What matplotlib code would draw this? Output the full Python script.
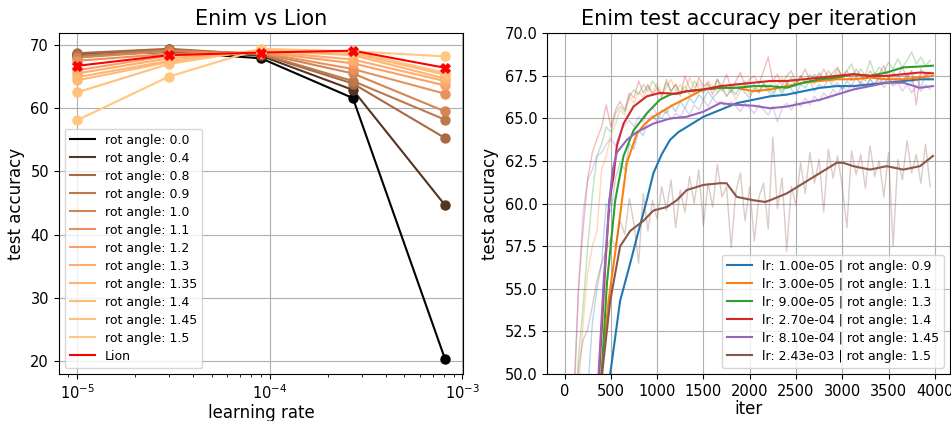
import matplotlib
matplotlib.use("Agg")
import matplotlib.pyplot as plt
from matplotlib import cm

# ---------------- left panel data ----------------
learning_rates = [1e-5, 3e-5, 9e-5, 2.7e-4, 8.1e-4]
rot_angles = [0.0, 0.4, 0.8, 0.9, 1.0, 1.1, 1.2, 1.3, 1.35, 1.4, 1.45, 1.5]
acc_by_angle = [
    [68.4, 68.9, 67.9, 61.6, 20.4],   # 0.0
    [68.6, 69.3, 68.3, 62.9, 44.7],   # 0.4
    [68.7, 69.4, 68.5, 63.9, 55.3],   # 0.8
    [68.3, 69.2, 68.6, 64.3, 58.2],   # 0.9
    [68.0, 69.0, 68.7, 65.5, 59.5],   # 1.0
    [67.5, 68.6, 68.8, 66.2, 62.3],   # 1.1
    [66.0, 68.3, 68.9, 67.1, 63.6],   # 1.2
    [65.5, 67.9, 69.0, 67.7, 64.3],   # 1.3
    [64.9, 67.5, 69.1, 68.4, 64.7],   # 1.35
    [64.4, 67.3, 69.2, 68.7, 65.3],   # 1.4
    [62.5, 67.0, 69.3, 68.9, 65.6],   # 1.45
    [58.1, 65.0, 69.4, 69.0, 68.2],   # 1.5
]
lion_acc = [66.7, 68.4, 68.8, 69.1, 66.4]

# ---------------- right panel data ----------------
run_lrs = [1.0e-5, 3.0e-5, 9.0e-5, 2.7e-4, 8.1e-4, 2.43e-3]
run_angles = ["0.9", "1.1", "1.3", "1.4", "1.45", "1.5"]
raw_iters = list(range(0, 4000, 50))

raw_blue = [20, 25, 30, 35, 42, 49, 53, 55, 56.5, 60, 59.5, 61.5, 62.4, 62, 63.5, 63.2, 64.3, 64, 64.9, 65.2,
            64.8, 65.5, 65.3, 65.8, 65.4, 66, 65.6, 66.2, 65.9, 66.4, 66.1, 66.6, 66.2, 66.5, 66.9, 66.3, 66.7, 66.4, 66.9, 66.5,
            66.2, 66.8, 66.5, 67.0, 66.6, 66.3, 66.9, 66.6, 67.1, 66.7, 66.4, 67.0, 66.8, 67.2, 66.6, 67.0, 66.8, 67.3, 66.9, 67.1,
            66.7, 67.2, 66.9, 67.4, 67.0, 66.8, 67.3, 67.0, 67.5, 67.1, 67.4, 67.0, 67.5, 67.2, 67.6, 67.1, 67.4, 66.8, 67.6, 67.3]
raw_orange = [25, 32, 40, 49, 53, 56, 57.5, 58.4, 62, 62.8, 64, 64.7, 65.5, 65.2, 66.3, 65.9, 66.6, 66.2, 66.9, 66.5,
              67.1, 66.4, 66.8, 67.3, 66.6, 67.0, 66.5, 67.4, 66.8, 67.1, 66.7, 67.2, 66.9, 66.5, 66.8, 66.3, 66.7, 66.1, 66.6, 66.9,
              66.4, 66.8, 66.5, 67.0, 66.7, 67.2, 66.9, 67.4, 67.0, 67.3, 66.9, 67.5, 67.1, 67.4, 67.0, 67.6, 67.2, 67.5, 67.1, 67.7,
              67.3, 67.6, 67.2, 67.5, 67.0, 67.6, 67.3, 67.7, 67.1, 67.4, 67.0, 67.5, 67.2, 67.6, 67.3, 67.8, 67.2, 67.6, 67.4, 67.7]
raw_green = [28, 36, 44, 51, 54, 57.5, 60.5, 62.8, 63.5, 64.5, 64.2, 65.3, 65.7, 65.4, 66.3, 66.7, 66.4, 67.0, 66.6, 67.2,
             66.8, 66.4, 67.1, 66.6, 67.0, 66.5, 66.9, 66.4, 67.2, 66.8, 66.5, 67.0, 66.7, 67.3, 66.6, 66.9, 66.5, 67.1, 66.7, 67.2,
             66.8, 67.0, 66.6, 67.1, 66.8, 66.5, 66.9, 66.4, 67.0, 67.4, 66.9, 67.5, 67.1, 67.6, 67.2, 67.7, 67.3, 67.8, 67.4, 67.9,
             67.5, 67.8, 68.2, 67.4, 67.9, 67.5, 68.4, 67.6, 68.0, 67.7, 68.3, 67.9, 68.5, 68.0, 68.4, 68.9, 68.2, 68.6, 68.1, 68.4]
raw_red = [30, 38, 48, 55, 58.5, 61.5, 63, 63.8, 64.5, 65.8, 64.5, 65.5, 66, 65.5, 66.5, 66.2, 67.2, 66.5, 67, 66.4,
           66.8, 66.2, 67.3, 66.6, 67, 66.3, 67.5, 66.8, 66.5, 67.4, 66.9, 67.1, 66.4, 67.3, 66.9, 67.6, 66.8, 67.2, 67.7, 66.9,
           67.3, 67.5, 67, 67.8, 68.6, 67.2, 67.6, 66.9, 67.5, 67.8, 67.1, 67.4, 67.9, 67.2, 67.6, 67.3, 67.9, 67.4, 67.7, 68.0,
           67.4, 67.8, 67.3, 67.9, 67.5, 67.2, 67.8, 67.4, 67.6, 68.1, 67.3, 67.7, 67.5, 68.0, 67.4, 67.8, 65.8, 67.9, 67.5, 67.7]
raw_purple = [30, 40, 49, 55, 59.5, 61.4, 62, 62.8, 63, 63.5, 63.8, 63.4, 64.2, 64.6, 64.9, 64.5, 65.1, 64.8, 65.4, 65.7,
              65.2, 65.0, 65.5, 64.9, 65.3, 65.1, 65.6, 65.2, 65.8, 65.5, 66.1, 65.7, 66.2, 65.9, 66.0, 65.6, 66.0, 65.7, 65.4, 65.9,
              65.6, 65.3, 65.8, 65.5, 65.2, 65.7, 64.8, 65.6, 65.9, 65.5, 66.0, 65.7, 66.2, 65.8, 66.3, 66.0, 66.5, 66.2, 66.7, 66.4,
              66.9, 66.6, 67.0, 66.7, 67.2, 66.9, 67.3, 67.0, 67.4, 66.8, 67.2, 66.9, 67.1, 66.6, 67.0, 66.5, 66.9, 66.6, 67.0, 66.7]
raw_brown = [25, 35, 44, 50.4, 52, 52.6, 54, 55.5, 56.5, 57.3, 58, 57.5, 59, 58.2, 60.3, 58.8, 56.5, 60.6, 58.4, 60.2,
             59.1, 61.0, 59.6, 61.4, 58.6, 60.8, 59.5, 61.6, 60.0, 62.0, 58.7, 61.2, 59.8, 62.3, 60.4, 61.0, 57.4, 60.7, 61.8, 59.0,
             61.0, 57.8, 60.4, 61.2, 58.5, 63.9, 59.7, 61.5, 57.2, 61.0, 59.9, 62.4, 60.6, 63.0, 61.2, 62.6, 59.5, 63.2, 61.5, 62.8,
             61.0, 58.6, 63.1, 61.7, 62.9, 60.9, 63.4, 61.6, 62.5, 60.4, 63.0, 57.5, 62.6, 61.4, 63.7, 61.8, 62.9, 61.2, 63.5, 61.0]

blue_s_it = [0, 300, 400, 493, 600, 709, 780, 888, 960, 1050, 1140, 1230, 1320, 1500, 1680, 1860, 2040, 2220, 2400, 2580, 2760, 2940, 3120, 3300, 3480, 3660, 3840, 3980]
blue_s = [20, 38, 45, 50, 54.3, 56.5, 58.0, 60.2, 61.8, 62.9, 63.75, 64.2, 64.5, 65.1, 65.5, 65.9, 66.1, 66.3, 66.4, 66.6, 66.8, 66.9, 66.9, 67.0, 67.1, 67.2, 67.3, 67.3]
orange_s_it = [0, 300, 400, 475, 565, 620, 673, 780, 870, 960, 1140, 1320, 1500, 1680, 1860, 2040, 2220, 2400, 2580, 2760, 2940, 3120, 3300, 3480, 3660, 3840, 3980]
orange_s = [20, 40, 50, 54.3, 57.85, 60.2, 62.4, 64.1, 64.7, 65.1, 65.7, 66.2, 66.7, 66.8, 66.8, 66.6, 66.7, 66.9, 67.1, 67.2, 67.3, 67.3, 67.4, 67.3, 67.3, 67.4, 67.5]
green_s_it = [0, 300, 400, 457, 547, 637, 745, 888, 1030, 1140, 1320, 1500, 1680, 1860, 2040, 2220, 2400, 2580, 2760, 2940, 3120, 3300, 3480, 3660, 3840, 3980]
green_s = [20, 42, 50, 55.3, 60.2, 62.8, 64.3, 65.3, 66.1, 66.4, 66.6, 66.7, 66.8, 66.8, 66.9, 66.9, 66.8, 67.1, 67.3, 67.4, 67.6, 67.5, 67.7, 68.0, 68.05, 68.1]
red_s_it = [0, 300, 374, 439, 485, 529, 565, 637, 745, 888, 1030, 1212, 1320, 1500, 1680, 1860, 2040, 2220, 2400, 2580, 2760, 2940, 3120, 3300, 3480, 3660, 3840, 3980]
red_s = [20, 42, 50, 56.3, 60.2, 61.6, 63.4, 64.7, 65.7, 66.3, 66.5, 66.45, 66.6, 66.7, 66.9, 67.0, 67.1, 67.2, 67.2, 67.3, 67.4, 67.5, 67.6, 67.5, 67.5, 67.6, 67.7, 67.65]
purple_s_it = [0, 300, 367, 421, 485, 520, 565, 673, 780, 960, 1140, 1320, 1500, 1680, 1860, 2040, 2220, 2400, 2580, 2760, 2940, 3120, 3300, 3480, 3660, 3840, 3980]
purple_s = [20, 44, 50, 55.3, 60.2, 62.0, 63.0, 63.75, 64.2, 64.7, 65.0, 65.1, 65.4, 65.9, 65.8, 65.75, 65.6, 65.7, 65.9, 66.1, 66.4, 66.7, 66.9, 67.1, 67.1, 66.8, 66.9]
brown_s_it = [0, 250, 421, 493, 600, 709, 853, 960, 1104, 1212, 1320, 1500, 1680, 1750, 1860, 2040, 2165, 2220, 2400, 2580, 2760, 2940, 3010, 3120, 3300, 3480, 3660, 3840, 3980]
brown_s = [20, 42, 50.8, 54.3, 57.5, 58.4, 59.0, 59.6, 59.8, 60.2, 60.8, 61.1, 61.2, 61.2, 60.4, 60.2, 60.1, 60.2, 60.6, 61.2, 61.8, 62.4, 62.4, 62.2, 62.0, 62.2, 62.0, 62.2, 62.8]

raw_series = [raw_blue, raw_orange, raw_green, raw_red, raw_purple, raw_brown]
smooth_series = [(blue_s_it, blue_s), (orange_s_it, orange_s), (green_s_it, green_s),
                 (red_s_it, red_s), (purple_s_it, purple_s), (brown_s_it, brown_s)]

# ---------------- figure ----------------
TICK = 10.5
LEG = 9
fig = plt.figure(figsize=(9.51, 4.21), dpi=100)
ax1 = fig.add_axes([0.0617, 0.1116, 0.4254, 0.8093])
ax2 = fig.add_axes([0.5752, 0.1116, 0.4238, 0.8093])

for ang, accs in zip(rot_angles, acc_by_angle):
    c = cm.copper(ang / 1.5)
    ax1.plot(learning_rates, accs, color=c, lw=1.5, label=f"rot angle: {ang}")
    ax1.scatter(learning_rates, accs, color=c, s=42, zorder=3)
ax1.plot(learning_rates, lion_acc, color="red", lw=1.5, label="Lion")
ax1.scatter(learning_rates, lion_acc, color="red", marker="X", s=45, zorder=3)
ax1.set_xscale("log")
ax1.grid(True)
ax1.set_title("Enim vs Lion", fontsize=15)
ax1.set_xlabel("learning rate", fontsize=12, labelpad=1)
ax1.set_ylabel("test accuracy", fontsize=12)
ax1.tick_params(labelsize=TICK)
ax1.legend(loc="lower left", fontsize=LEG, labelspacing=0.4)

colors = plt.rcParams["axes.prop_cycle"].by_key()["color"]
for i in range(6):
    c = colors[i]
    ax2.plot(raw_iters, raw_series[i], color=c, lw=1.0, alpha=0.3)
    it, vals = smooth_series[i]
    ax2.plot(it, vals, color=c, lw=1.5,
             label=f"lr: {run_lrs[i]:.2e} | rot angle: {run_angles[i]}")
ax2.set_ylim(50, 70)
ax2.set_xlim(-190, 4165)
ax2.grid(True)
ax2.set_title("Enim test accuracy per iteration", fontsize=15)
ax2.set_xlabel("iter", fontsize=12, labelpad=1)
ax2.set_ylabel("test accuracy", fontsize=12)
ax2.tick_params(labelsize=TICK)
ax2.legend(loc="lower right", fontsize=LEG, labelspacing=0.4)

fig.savefig("out.png", dpi=100)
